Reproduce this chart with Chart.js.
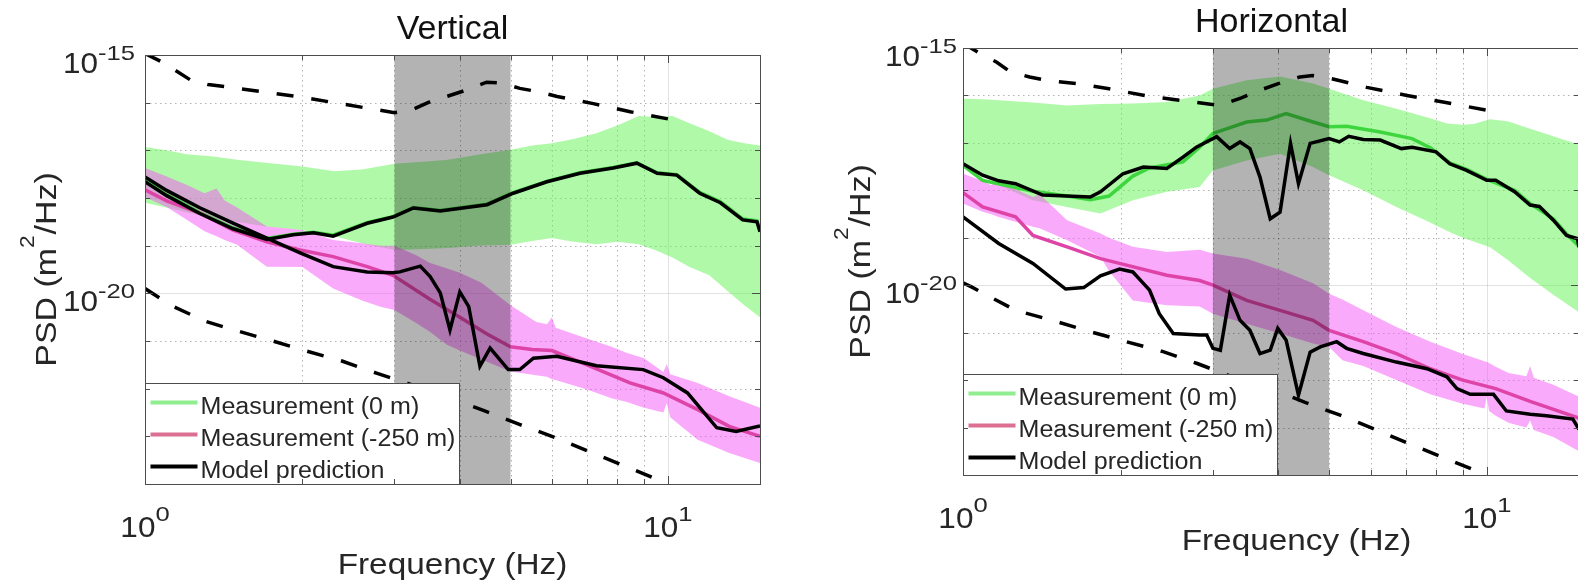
<!DOCTYPE html>
<html>
<head>
<meta charset="utf-8">
<title>PSD at 0 m and -250 m</title>
<script src="https://cdn.jsdelivr.net/npm/chart.js@4.4.1/dist/chart.umd.min.js"></script>
<style>
  html, body { margin: 0; padding: 0; background: #fff; overflow: hidden; }
  #figure { position: relative; width: 1578px; height: 585px; overflow: hidden; }
  #figure canvas { position: absolute; top: 0; }
</style>
</head>
<body>
<div id="figure">
  <canvas id="vertical" width="790" height="585" style="left:0"></canvas>
  <canvas id="horizontal" width="790" height="585" style="left:790px"></canvas>
</div>
<script>
// ---- axes ----
const freqLimits = [1, 15];
const psdLimits = [1e-24, 1e-15];
const bandHz = [3, 5];
const freqMinor = [2, 3, 4, 5, 6, 7, 8, 9];
const freqMajor = [1, 10];
const psdDecades = [-24, -23, -22, -21, -20, -19, -18, -17, -16, -15];
const psdMajor = [-20, -15];
const legendLabels = ['Measurement (0 m)', 'Measurement (-250 m)', 'Model prediction'];

// ---- Vertical (PSD values are log10 of m^2/Hz) ----
const vGreenF  = [1, 1.1, 1.2, 1.35, 1.5, 1.7, 2, 2.3, 2.6, 3, 3.4, 3.8, 4.3, 5, 5.5, 6, 6.6, 7.3, 8, 8.8, 9.5, 10.2, 11, 12, 13, 14, 15];
const vGreenHi = [-16.93, -17.0, -17.08, -17.13, -17.2, -17.26, -17.34, -17.44, -17.4, -17.28, -17.24, -17.2, -17.1, -16.99, -16.9, -16.85, -16.76, -16.64, -16.48, -16.28, -16.3, -16.28, -16.43, -16.6, -16.78, -16.85, -16.9];
const vGreenLo = [-18.1, -18.2, -18.3, -18.42, -18.5, -18.6, -18.67, -18.8, -18.95, -19.09, -19.07, -19.05, -19.0, -18.98, -18.9, -18.84, -18.92, -18.97, -18.92, -18.97, -19.1, -19.25, -19.45, -19.62, -19.95, -20.25, -20.5];
const vGreenMeanF = [1, 1.1, 1.27, 1.47, 1.71, 1.92, 2.1, 2.29, 2.66, 2.98, 3.26, 3.67, 4.51, 5.06, 5.87, 6.79, 7.86, 8.72, 9.54, 10.4, 11.5, 12.6, 13.9, 14.8, 15];
const vGreenMean  = [-17.64, -17.93, -18.3, -18.62, -18.85, -18.76, -18.72, -18.78, -18.52, -18.39, -18.2, -18.26, -18.13, -17.89, -17.65, -17.47, -17.36, -17.26, -17.47, -17.51, -17.88, -18.08, -18.44, -18.48, -18.68];
const vPinkF  = [1, 1.1, 1.2, 1.3, 1.37, 1.42, 1.5, 1.71, 2.0, 2.29, 2.6, 2.82, 3.0, 3.3, 3.5, 3.78, 4.0, 4.4, 5.0, 5.6, 5.87, 6.0, 6.1, 7.0, 7.8, 8.35, 9.0, 9.8, 9.95, 10.1, 11.4, 13.1, 15];
const vPinkHi = [-17.37, -17.55, -17.72, -17.9, -17.8, -18.05, -18.2, -18.6, -18.67, -18.88, -18.95, -19.0, -19.0, -19.2, -19.36, -19.48, -19.57, -19.78, -20.25, -20.6, -20.65, -20.5, -20.72, -20.95, -21.12, -21.25, -21.36, -21.65, -21.48, -21.7, -21.88, -22.16, -22.4];
const vPinkLo = [-17.98, -18.19, -18.45, -18.7, -18.8, -18.88, -18.98, -19.44, -19.45, -19.9, -20.15, -20.28, -20.35, -20.62, -20.8, -21.08, -21.2, -21.39, -21.64, -21.72, -21.75, -21.8, -21.82, -22.02, -22.2, -22.28, -22.4, -22.5, -22.3, -22.6, -23.07, -23.35, -23.56];
const vPinkMeanF = [1, 1.1, 1.27, 1.47, 1.71, 1.98, 2.29, 2.66, 2.98, 3.5, 4.0, 4.5, 5.0, 5.5, 6.0, 7.0, 8.46, 9.8, 11.4, 13.1, 15];
const vPinkMean  = [-17.83, -18.06, -18.31, -18.67, -18.92, -19.09, -19.23, -19.44, -19.62, -20.12, -20.5, -20.85, -21.12, -21.18, -21.2, -21.5, -21.88, -22.09, -22.44, -22.79, -23.0];
const vModelAF = [1, 1.1, 1.27, 1.47, 1.71, 1.92, 2.1, 2.29, 2.66, 2.98, 3.26, 3.67, 4.51, 5.06, 5.87, 6.79, 7.86, 8.72, 9.54, 10.4, 11.5, 12.6, 13.9, 14.8, 15];
const vModelA  = [-17.66, -17.95, -18.32, -18.64, -18.87, -18.77, -18.73, -18.8, -18.53, -18.4, -18.21, -18.27, -18.14, -17.9, -17.66, -17.48, -17.37, -17.27, -17.48, -17.52, -17.9, -18.1, -18.46, -18.5, -18.71];
const vModelBF = [1, 1.1, 1.27, 1.47, 1.71, 1.98, 2.29, 2.66, 2.98, 3.07, 3.36, 3.51, 3.67, 3.83, 4.0, 4.16, 4.37, 4.57, 4.95, 5.21, 5.53, 6.13, 7.3, 8.97, 9.8, 10.9, 12.4, 13.5, 15];
const vModelB  = [-17.56, -17.84, -18.2, -18.52, -18.84, -19.15, -19.44, -19.55, -19.57, -19.55, -19.43, -19.65, -19.99, -20.77, -19.97, -20.28, -21.53, -21.15, -21.6, -21.6, -21.36, -21.32, -21.52, -21.6, -21.77, -22.09, -22.82, -22.9, -22.78];
const vBoundHiF = [1, 1.08, 1.22, 1.32, 1.44, 1.98, 2.78, 3.0, 3.24, 3.51, 3.8, 4.13, 4.5, 4.82, 5.21, 5.65, 6.14, 7.2, 8.47, 10];
const vBoundHi  = [-14.97, -15.15, -15.52, -15.62, -15.67, -15.88, -16.15, -16.21, -16.15, -15.98, -15.86, -15.73, -15.57, -15.59, -15.7, -15.77, -15.87, -16.02, -16.19, -16.34];
const vBoundLoF = [1, 1.12, 1.3, 1.47, 1.73, 2.02, 2.38, 2.78, 3.2, 3.8, 4.45, 5.2, 6.1, 7.1, 8.3, 10];
const vBoundLo  = [-19.9, -20.25, -20.58, -20.76, -20.98, -21.2, -21.42, -21.68, -21.9, -22.18, -22.46, -22.75, -23.03, -23.33, -23.63, -24.0];

// ---- Horizontal ----
const hGreenF  = [1, 1.09, 1.17, 1.36, 1.58, 1.83, 2.11, 2.45, 2.83, 3.0, 3.48, 4.03, 4.66, 5.0, 5.81, 6.72, 7.8, 8.39, 9.0, 9.44, 10.15, 11.0, 12.1, 13.4, 14.9, 15];
const hGreenHi = [-16.07, -16.08, -16.1, -16.15, -16.21, -16.18, -16.17, -16.14, -16.0, -15.86, -15.68, -15.6, -15.75, -15.86, -16.1, -16.28, -16.48, -16.59, -16.62, -16.6, -16.5, -16.55, -16.7, -16.86, -17.03, -17.05];
const hGreenLo = [-17.51, -17.7, -17.89, -18.21, -18.35, -18.49, -18.21, -18.03, -17.93, -17.58, -17.37, -17.23, -17.51, -17.68, -18.0, -18.35, -18.68, -18.85, -19.0, -19.08, -19.2, -19.48, -19.85, -20.2, -20.55, -20.6];
const hGreenMeanF = [1, 1.09, 1.36, 1.58, 1.75, 1.9, 2.11, 2.27, 2.63, 2.83, 3.0, 3.48, 3.8, 4.14, 4.66, 5.0, 5.4, 6.26, 7.2, 7.8, 8.5, 9.15, 10, 11.3, 12.1, 13.4, 14.2, 15];
const hGreenMean  = [-17.47, -17.79, -18.02, -18.12, -18.2, -18.12, -17.7, -17.53, -17.4, -17.09, -16.8, -16.56, -16.52, -16.38, -16.56, -16.66, -16.65, -16.77, -16.91, -17.1, -17.42, -17.56, -17.77, -18.0, -18.28, -18.6, -18.92, -19.18];
const hPinkF  = [1, 1.09, 1.13, 1.17, 1.36, 1.4, 1.58, 1.83, 1.9, 2.11, 2.45, 2.83, 3.0, 3.48, 4.03, 4.66, 5.0, 5.3, 5.81, 6.72, 7.8, 9.0, 9.9, 10.0, 10.1, 10.4, 11.0, 11.9, 12.1, 12.3, 13.4, 15];
const hPinkHi = [-17.65, -17.8, -17.89, -17.82, -18.14, -18.08, -18.63, -18.91, -19.0, -19.19, -19.3, -19.25, -19.33, -19.44, -19.68, -19.96, -20.18, -20.3, -20.53, -20.88, -21.19, -21.45, -21.6, -21.62, -21.64, -21.72, -21.85, -21.92, -21.7, -21.95, -22.1, -22.35];
const hPinkLo = [-18.28, -18.45, -18.5, -18.56, -18.77, -18.8, -19.05, -19.4, -19.7, -20.32, -20.42, -20.45, -20.6, -20.81, -21.02, -21.23, -21.3, -21.58, -21.7, -22.0, -22.3, -22.5, -22.6, -22.35, -22.65, -22.75, -22.9, -23.0, -22.85, -23.05, -23.2, -23.5];
const hPinkMeanF = [1, 1.09, 1.26, 1.36, 1.58, 1.83, 1.99, 2.45, 2.83, 3.0, 3.48, 4.03, 4.66, 5.0, 5.81, 6.72, 7.8, 9.0, 10.4, 12.1, 15];
const hPinkMean  = [-18.05, -18.35, -18.56, -18.95, -19.19, -19.44, -19.54, -19.79, -19.9, -20.0, -20.32, -20.53, -20.74, -20.95, -21.19, -21.44, -21.76, -22.0, -22.18, -22.45, -22.8];
const hModelAF = [1, 1.09, 1.17, 1.26, 1.42, 1.75, 1.83, 2.02, 2.21, 2.45, 2.63, 2.79, 3.05, 3.23, 3.38, 3.53, 3.69, 3.86, 4.03, 4.22, 4.37, 4.6, 5.0, 5.23, 5.45, 5.81, 6.26, 6.87, 7.2, 8.0, 8.5, 9.15, 10, 10.4, 11.3, 12.1, 12.6, 13.4, 14.2, 14.9, 15];
const hModelA  = [-17.44, -17.68, -17.8, -17.86, -18.1, -18.14, -18.03, -17.65, -17.51, -17.54, -17.3, -17.09, -16.87, -17.12, -16.98, -17.12, -17.72, -18.6, -18.46, -17.01, -17.86, -17.01, -16.91, -16.98, -16.86, -16.93, -16.94, -17.12, -17.09, -17.19, -17.44, -17.58, -17.79, -17.79, -18.03, -18.31, -18.34, -18.63, -18.95, -19.02, -19.2];
const hModelBF = [1, 1.17, 1.36, 1.57, 1.7, 1.83, 1.99, 2.11, 2.21, 2.27, 2.37, 2.52, 2.83, 2.92, 3.0, 3.1, 3.23, 3.38, 3.53, 3.69, 3.86, 3.99, 4.14, 4.37, 4.6, 4.81, 5.17, 5.4, 5.81, 6.72, 7.69, 8.39, 8.77, 9.3, 10.3, 10.9, 12.1, 13.0, 14.6, 15];
const hModelB  = [-18.56, -19.12, -19.54, -20.08, -20.05, -19.8, -19.66, -19.72, -19.96, -20.1, -20.6, -21.02, -21.05, -21.05, -21.33, -21.37, -20.21, -20.74, -20.95, -21.44, -21.37, -20.91, -21.16, -22.32, -21.41, -21.3, -21.19, -21.33, -21.44, -21.62, -21.76, -21.93, -22.18, -22.3, -22.3, -22.65, -22.72, -22.75, -22.82, -23.04];
const hBoundHiF = [1, 1.08, 1.16, 1.23, 1.34, 1.44, 1.65, 1.9, 2.27, 2.75, 3.09, 3.4, 3.69, 4.0, 4.4, 4.65, 4.94, 5.2, 5.9, 7.04, 8.25, 10];
const hBoundHi  = [-14.9, -15.12, -15.3, -15.5, -15.61, -15.68, -15.75, -15.86, -16.02, -16.14, -16.21, -16.05, -15.89, -15.75, -15.61, -15.58, -15.62, -15.68, -15.83, -16.0, -16.14, -16.31];
const hBoundLoF = [1, 1.04, 1.26, 1.48, 1.75, 2.05, 2.41, 2.8, 3.3, 3.9, 4.5, 5.25, 6.1, 7.1, 8.3, 10];
const hBoundLo  = [-19.95, -20.04, -20.53, -20.74, -20.98, -21.19, -21.4, -21.65, -21.95, -22.2, -22.47, -22.74, -23.03, -23.34, -23.64, -24.0];

// ---- styles ----
const FONT = '"Liberation Sans", Arial, Helvetica, sans-serif';
const INK = '#262626';
const AXIS = '#4d4d4d';
const GREEN_FILL = 'rgba(98, 243, 84, 0.5)';
const PINK_FILL = 'rgba(246, 86, 246, 0.5)';
const GREEN_LINE = 'rgb(62, 214, 62)';
const PINK_LINE = 'rgb(222, 68, 168)';
const BAND_GREY = 'rgb(179, 179, 179)';
const LEGEND_SWATCH = ['#90ee90', '#db7093', '#000000'];

const pts = (f, logPsd) => f.map((x, i) => ({ x, y: Math.pow(10, logPsd[i]) }));

function buildDatasets(s) {
  const line = (data, color, width, order, extra) =>
    Object.assign({ data, borderColor: color, borderWidth: width, fill: false, order }, extra || {});
  return [
    line(pts(s.greenF, s.greenHi), 'transparent', 0, 10, { fill: '+1', backgroundColor: GREEN_FILL }),
    line(pts(s.greenF, s.greenLo), 'transparent', 0, 10),
    line(pts(s.pinkF, s.pinkHi), 'transparent', 0, 9, { fill: '+1', backgroundColor: PINK_FILL }),
    line(pts(s.pinkF, s.pinkLo), 'transparent', 0, 9),
    line(pts(s.greenMeanF, s.greenMean), GREEN_LINE, 3.5, 8),
    line(pts(s.pinkMeanF, s.pinkMean), PINK_LINE, 3.5, 7),
    line(pts(s.modelAF, s.modelA), '#000', 3.5, 5),
    line(pts(s.modelBF, s.modelB), '#000', 3.5, 5),
    line(pts(s.boundHiF, s.boundHi), '#000', 3.5, 4, { borderDash: [17, 18] }),
    line(pts(s.boundLoF, s.boundLo), '#000', 3.5, 4, { borderDash: [17, 18] })
  ];
}

// the exported figure text runs a little wider than plain Helvetica, so glyphs get a slight horizontal stretch
function textWidth(ctx, str, size, sx) {
  ctx.font = size + 'px ' + FONT;
  return ctx.measureText(str).width * sx;
}
function stretchedText(ctx, str, x, y, size, sx, align) {
  ctx.save();
  ctx.font = size + 'px ' + FONT;
  ctx.textAlign = align || 'left';
  ctx.translate(x, y);
  ctx.scale(sx, 1);
  ctx.fillText(str, 0, 0);
  ctx.restore();
}

// "10" with a raised exponent, as the axis tick labels
function powerLabel(ctx, exp, x, y, align, rise, L) {
  const e = String(exp);
  const w1 = textWidth(ctx, '10', L.tick, L.tickSx);
  const w2 = textWidth(ctx, e, L.sup, L.supSx);
  const x0 = align === 'right' ? x - w1 - w2 : x - (w1 + w2) / 2;
  stretchedText(ctx, '10', x0, y, L.tick, L.tickSx);
  stretchedText(ctx, e, x0 + w1, y - rise, L.sup, L.supSx);
}

function seg(ctx, x0, y0, x1, y1) {
  ctx.beginPath(); ctx.moveTo(x0, y0); ctx.lineTo(x1, y1); ctx.stroke();
}

function matlabAxes(L) {
  return {
    id: 'matlabAxes',
    beforeDraw(chart) {
      const ctx = chart.ctx;
      ctx.save();
      ctx.fillStyle = '#fff';
      ctx.fillRect(0, 0, chart.width, chart.height);
      ctx.restore();
    },
    beforeDatasetsDraw(chart) {
      const { ctx, chartArea: a, scales: { x, y } } = chart;
      ctx.save();
      ctx.lineWidth = 1;
      ctx.setLineDash([1.5, 3.5]);
      ctx.strokeStyle = 'rgba(38, 38, 38, 0.35)';
      freqMinor.forEach(f => { const px = Math.round(x.getPixelForValue(f)) + 0.5; seg(ctx, px, a.top, px, a.bottom); });
      psdDecades.filter(d => !psdMajor.includes(d)).forEach(d => {
        const py = Math.round(y.getPixelForValue(Math.pow(10, d))) + 0.5; seg(ctx, a.left, py, a.right, py);
      });
      ctx.setLineDash([]);
      ctx.strokeStyle = 'rgba(38, 38, 38, 0.13)';
      freqMajor.forEach(f => { const px = Math.round(x.getPixelForValue(f)) + 0.5; seg(ctx, px, a.top, px, a.bottom); });
      psdMajor.forEach(d => { const py = Math.round(y.getPixelForValue(Math.pow(10, d))) + 0.5; seg(ctx, a.left, py, a.right, py); });
      ctx.restore();
    },
    afterDatasetsDraw(chart) {
      // shaded frequency window, darkening whatever lies beneath it
      const { ctx, chartArea: a, scales: { x } } = chart;
      const x0 = x.getPixelForValue(bandHz[0]);
      const x1 = x.getPixelForValue(bandHz[1]);
      ctx.save();
      ctx.globalCompositeOperation = 'multiply';
      ctx.fillStyle = BAND_GREY;
      ctx.fillRect(x0, a.top, x1 - x0, a.bottom - a.top);
      ctx.restore();
    },
    afterDraw(chart) {
      const { ctx, chartArea: a, scales: { x, y } } = chart;
      ctx.save();
      // legend, bottom-left inside the axes
      const bx = a.left + 0.5, by = Math.round(a.bottom - L.legendH) + 0.5;
      ctx.fillStyle = '#fff';
      ctx.fillRect(bx, by, L.legendW, L.legendH);
      ctx.strokeStyle = AXIS; ctx.lineWidth = 1;
      ctx.strokeRect(bx, by, L.legendW, L.legendH);
      legendLabels.forEach((label, i) => {
        const base = by + 30 + i * 32;
        ctx.strokeStyle = LEGEND_SWATCH[i]; ctx.lineWidth = 4;
        seg(ctx, bx + 5, base - 11, bx + 52, base - 11);
        ctx.fillStyle = INK;
        stretchedText(ctx, label, bx + 55, base, L.legend, L.legendSx);
      });

      // box and ticks
      ctx.strokeStyle = AXIS; ctx.lineWidth = 1;
      ctx.strokeRect(Math.round(a.left) + 0.5, Math.round(a.top) + 0.5, Math.round(a.right - a.left), Math.round(a.bottom - a.top));
      freqMinor.concat(freqMajor).forEach(f => {
        const px = Math.round(x.getPixelForValue(f)) + 0.5;
        const len = freqMajor.includes(f) ? 8 : 5;
        seg(ctx, px, a.bottom, px, a.bottom - len);
        seg(ctx, px, a.top, px, a.top + len);
      });
      psdDecades.forEach(d => {
        const py = Math.round(y.getPixelForValue(Math.pow(10, d))) + 0.5;
        const len = psdMajor.includes(d) ? 8 : 5;
        seg(ctx, a.left, py, a.left + len, py);
        seg(ctx, a.right, py, a.right - len, py);
      });

      // tick labels
      ctx.fillStyle = INK;
      psdMajor.forEach(d => powerLabel(ctx, d, a.left - L.yGap, y.getPixelForValue(Math.pow(10, d)) + 17.5, 'right', 13, L));
      freqMajor.forEach(f => powerLabel(ctx, Math.round(Math.log10(f)), x.getPixelForValue(f), a.bottom + 53, 'center', 16, L));

      // axis labels
      stretchedText(ctx, 'Frequency (Hz)', L.xlabelX, L.xlabelY, L.xlabel, L.labelSx, 'center');

      ctx.save();
      ctx.translate(L.ylabelX, a.top + (a.bottom - a.top) / 2);
      ctx.rotate(-Math.PI / 2);
      const p1 = 'PSD (m', p3 = '/Hz)';
      const w1 = textWidth(ctx, p1, L.ylabel, L.labelSx);
      const w2 = textWidth(ctx, '2', L.ylabelSup, L.labelSx) + 1;
      const w3 = textWidth(ctx, p3, L.ylabel, L.labelSx);
      const cx = -(w1 + w2 + w3) / 2;
      stretchedText(ctx, p1, cx, 0, L.ylabel, L.labelSx);
      stretchedText(ctx, '2', cx + w1, -L.ylabelSupRise, L.ylabelSup, L.labelSx);
      stretchedText(ctx, p3, cx + w1 + w2, 0, L.ylabel, L.labelSx);
      ctx.restore();

      // title
      ctx.fillStyle = '#111';
      stretchedText(ctx, L.title, L.titleX, L.titleY, L.titleSize, 1, 'center');
      ctx.restore();
    }
  };
}

function makeChart(id, sets, L) {
  return new Chart(document.getElementById(id), {
    type: 'line',
    data: { datasets: sets },
    options: {
      responsive: false,
      animation: false,
      devicePixelRatio: 1,
      events: [],
      layout: { padding: L.padding },
      elements: { point: { radius: 0 }, line: { tension: 0, borderCapStyle: 'butt' } },
      plugins: { legend: { display: false }, tooltip: { enabled: false } },
      scales: {
        x: { type: 'logarithmic', min: freqLimits[0], max: freqLimits[1], display: false },
        y: { type: 'logarithmic', min: psdLimits[0], max: psdLimits[1], display: false }
      }
    },
    plugins: [matlabAxes(L)]
  });
}

const textSizes = {
  tick: 30, tickSx: 1.05, sup: 21, supSx: 1.22,
  xlabel: 29.5, ylabel: 30, labelSx: 1.13, ylabelSup: 20, ylabelSupRise: 22,
  legend: 23, legendSx: 1.09,
  titleSize: 34, legendW: 314, legendH: 101
};

makeChart('vertical', buildDatasets({
  greenF: vGreenF, greenHi: vGreenHi, greenLo: vGreenLo,
  greenMeanF: vGreenMeanF, greenMean: vGreenMean,
  pinkF: vPinkF, pinkHi: vPinkHi, pinkLo: vPinkLo,
  pinkMeanF: vPinkMeanF, pinkMean: vPinkMean,
  modelAF: vModelAF, modelA: vModelA, modelBF: vModelBF, modelB: vModelB,
  boundHiF: vBoundHiF, boundHi: vBoundHi, boundLoF: vBoundLoF, boundLo: vBoundLo
}), Object.assign({}, textSizes, {
  padding: { left: 145, right: 30, top: 55, bottom: 101 },
  title: 'Vertical', titleX: 452.5, titleY: 39,
  xlabelX: 452.5, xlabelY: 574, ylabelX: 56, yGap: 10
}));

makeChart('horizontal', buildDatasets({
  greenF: hGreenF, greenHi: hGreenHi, greenLo: hGreenLo,
  greenMeanF: hGreenMeanF, greenMean: hGreenMean,
  pinkF: hPinkF, pinkHi: hPinkHi, pinkLo: hPinkLo,
  pinkMeanF: hPinkMeanF, pinkMean: hPinkMean,
  modelAF: hModelAF, modelA: hModelA, modelBF: hModelBF, modelB: hModelB,
  boundHiF: hBoundHiF, boundHi: hBoundHi, boundLoF: hBoundLoF, boundLo: hBoundLo
}), Object.assign({}, textSizes, {
  padding: { left: 173, right: 1, top: 48, bottom: 110 },
  title: 'Horizontal', titleX: 481.5, titleY: 32,
  xlabelX: 506.5, xlabelY: 550, ylabelX: 80, yGap: 6
}));
</script>
</body>
</html>
